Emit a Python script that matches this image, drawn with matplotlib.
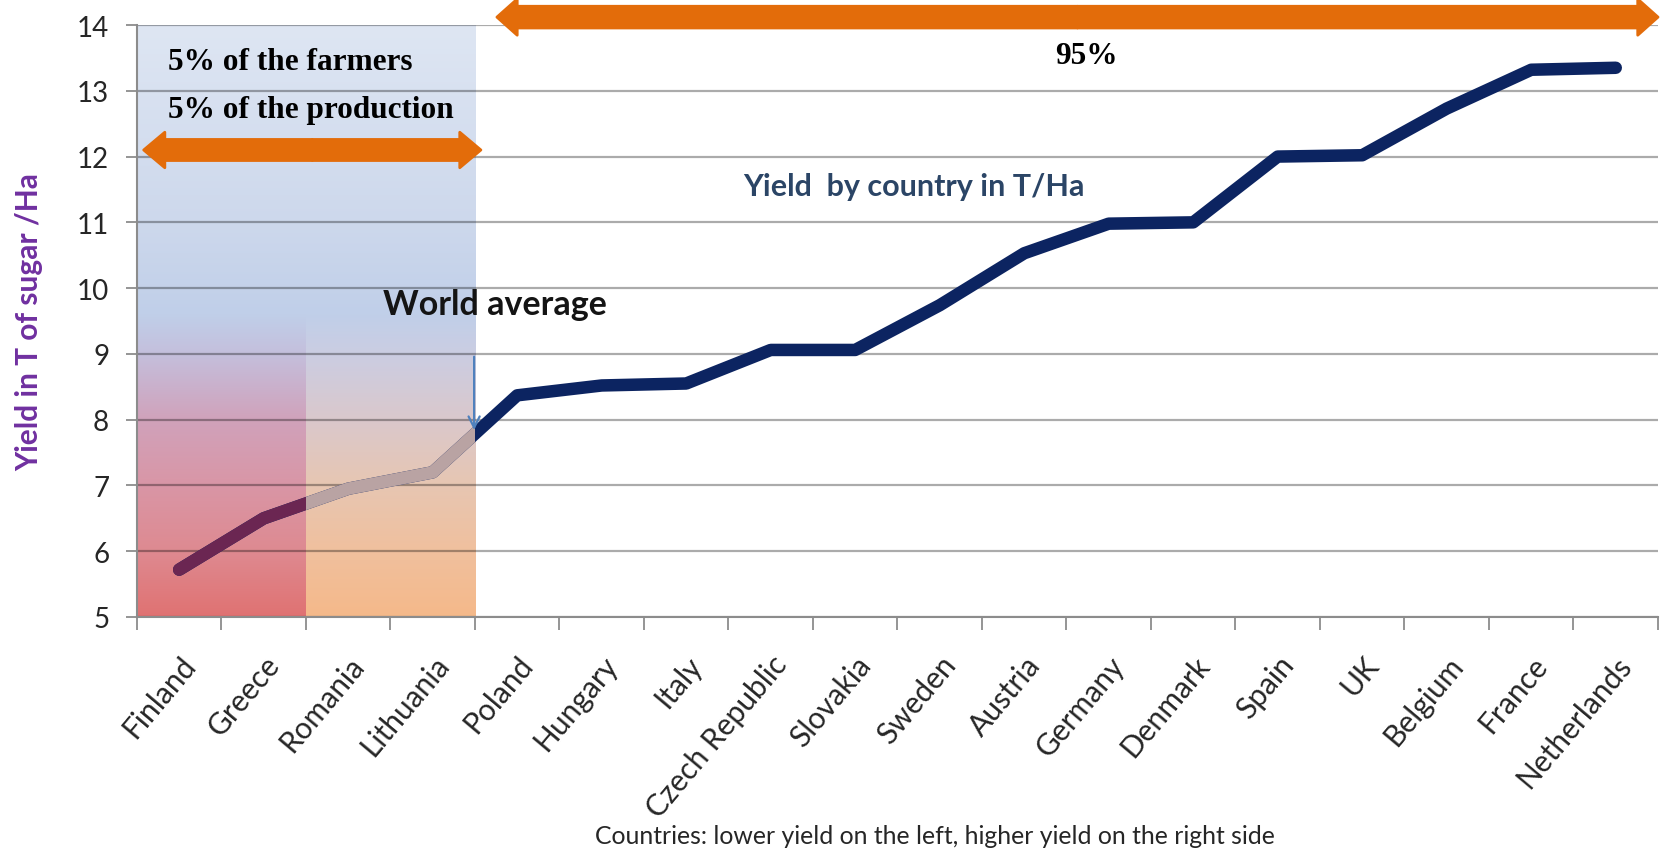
import matplotlib
matplotlib.use('Agg')

import numpy as np
import matplotlib.pyplot as plt
from matplotlib.colors import to_rgb
from matplotlib.patches import FancyArrow, Rectangle

countries = ['Finland', 'Greece', 'Romania', 'Lithuania', 'Poland', 'Hungary', 'Italy',
             'Czech Republic', 'Slovakia', 'Sweden', 'Austria', 'Germany', 'Denmark',
             'Spain', 'UK', 'Belgium', 'France', 'Netherlands']
yields = [5.72, 6.5, 6.95, 7.2, 8.37, 8.52, 8.55, 9.06, 9.06, 9.74, 10.53, 10.98,
          11.0, 12.0, 12.02, 12.73, 13.32, 13.35]
y_ticks = [5, 6, 7, 8, 9, 10, 11, 12, 13, 14]

NAVY = '#0c2461'
ORANGE = '#e36c0a'
SANS = ['Lato', 'DejaVu Sans']
SERIF = ['Liberation Serif', 'DejaVu Serif']

plt.rcParams['font.family'] = SANS

fig = plt.figure(figsize=(16.66, 8.53), dpi=100)
ax = fig.add_axes([0.0822, 0.2755, 0.913, 0.694])

x = np.arange(len(countries)) + 0.5

# gradient background for the low-yield countries
def column(stops, n=300):
    ys = np.array([s[0] for s in stops])
    cols = np.array([to_rgb(s[1]) for s in stops])
    grid = np.linspace(14, 5, n)
    img = np.stack([np.interp(grid, ys[::-1], cols[::-1, k]) for k in range(3)], axis=-1)
    return img[:, None, :]

left_stops = [(14, '#dee6f3'), (11, '#cdd8ec'), (9.6, '#c0cfe9'), (9.0, '#c4bfdc'),
              (8.0, '#d0a2bb'), (7.0, '#d996a6'), (6.0, '#de8a91'), (5, '#e07272')]
right_stops = [(14, '#dee6f3'), (11, '#cdd8ec'), (9.6, '#c0cfe9'), (9.0, '#cbcde2'),
               (8.0, '#dac8cc'), (7.0, '#e7c6b2'), (6.0, '#f0c09e'), (5, '#f5b98a')]
ax.imshow(column(left_stops), extent=(0, 2, 5, 14), aspect='auto', zorder=0.5,
          interpolation='bilinear')
ax.imshow(column(right_stops), extent=(2, 4, 5, 14), aspect='auto', zorder=0.5,
          interpolation='bilinear')
ax.set_xlim(0, len(countries))
ax.set_ylim(5, 14)

# grid
for yv in y_ticks:
    ax.axhline(yv, color=(0, 0, 0, 0.33), lw=1.6, zorder=1)

# yield line, faded where it sits under the shaded block
ax.plot(x, yields, color=NAVY, lw=9, solid_capstyle='round', solid_joinstyle='round', zorder=3)
for x0, col in [(0, '#6b2652'), (2, '#b9a3a3')]:
    ln, = ax.plot(x, yields, color=col, lw=9, solid_capstyle='round',
                  solid_joinstyle='round', zorder=3.5)
    clip = Rectangle((x0, 5), 2, 9, transform=ax.transData)
    ln.set_clip_path(clip)

# axes styling
for s in ['top', 'right']:
    ax.spines[s].set_visible(False)
for s in ['left', 'bottom']:
    ax.spines[s].set_color('#8c8c8c')
    ax.spines[s].set_linewidth(1.5)
    ax.spines[s].set_zorder(4)

ax.set_yticks(y_ticks)
ax.set_yticklabels([str(v) for v in y_ticks], fontsize=20, color='#262626')
ax.tick_params(axis='y', length=8, width=1.3, color='#8c8c8c', pad=12)

ax.set_xticks(np.arange(len(countries) + 1))
ax.set_xticklabels([])
ax.set_xticks(x, minor=True)
ax.set_xticklabels(countries, minor=True, rotation=50, ha='right', rotation_mode='anchor',
                   fontsize=21.5, color='#262626')
ax.tick_params(axis='x', which='major', length=9, width=1.3, color='#8c8c8c')
ax.tick_params(axis='x', which='minor', length=0, pad=24)

ax.set_ylabel('Yield in T of sugar /Ha', fontsize=21.5, fontweight='bold', color='#7030a0',
              labelpad=24)
fig.text(0.561, 0.019, 'Countries: lower yield on the left, higher yield on the right side',
         ha='center', va='center', fontsize=17.8, color='#262626')

# orange double arrows
def double_arrow(x0, x1, yc, width, head_w, head_l):
    mid = (x0 + x1) / 2
    for end in (x0, x1):
        ax.add_patch(FancyArrow(mid, yc, end - mid, 0, width=width, head_width=head_w,
                                head_length=head_l, length_includes_head=True,
                                color=ORANGE, lw=2, joinstyle='round', clip_on=False,
                                zorder=5))

double_arrow(0.08, 4.07, 12.1, 0.32, 0.54, 0.25)
double_arrow(4.26, 18.0, 14.12, 0.33, 0.55, 0.24)

ax.text(0.37, 13.45, '5% of the farmers', family=SERIF, fontweight='bold', fontsize=22.5,
        va='center', ha='left', color='black', zorder=6)
ax.text(0.37, 12.72, '5% of the production', family=SERIF, fontweight='bold', fontsize=22.5,
        va='center', ha='left', color='black', zorder=6)
ax.text(11.24, 13.53, '95%', family=SERIF, fontweight='bold', fontsize=22.5,
        va='center', ha='center', color='black', zorder=6)
ax.text(7.17, 11.55, 'Yield  by country in T/Ha', fontsize=22, fontweight='bold',
        color='#2b4566', va='center', ha='left', zorder=6)
ax.text(2.91, 9.76, 'World average', fontsize=24.5, fontweight='bold', color='#141414',
        va='center', ha='left', zorder=6)
ax.annotate('', xy=(3.99, 7.8), xytext=(3.99, 9.0),
            arrowprops=dict(arrowstyle='->,head_length=0.8,head_width=0.4',
                            color='#4f81bd', lw=1.6), zorder=6)

fig.savefig('out.png', dpi=100)
